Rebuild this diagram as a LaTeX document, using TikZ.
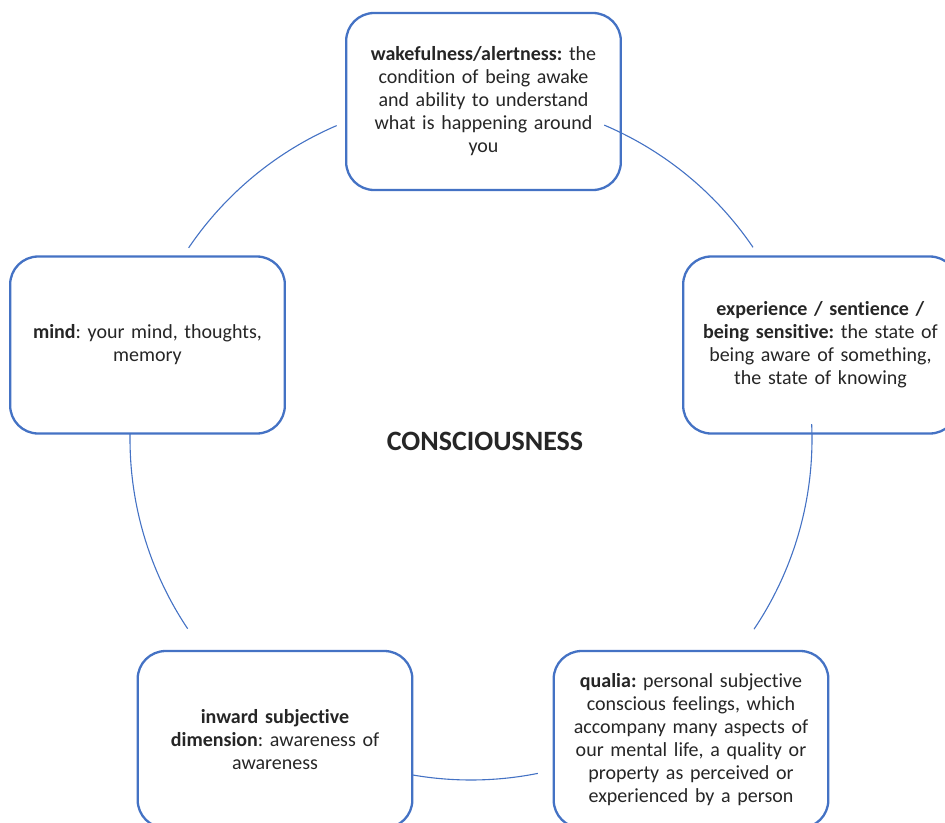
\documentclass[tikz,border=0pt]{standalone}
\usepackage{fontspec}
\setmainfont[Ligatures=NoCommon]{Carlito}
\usepackage{xcolor}
\definecolor{officeblue}{HTML}{4472C4}
\definecolor{textgrey}{HTML}{262626}
\usetikzlibrary{positioning}
\frenchspacing

\begin{document}
\begin{tikzpicture}[
  x=1pt, y=-1pt,
  topic/.style={draw=officeblue, line width=2.3pt, fill=white,
    rounded corners=28pt, minimum width=273pt, minimum height=177pt,
    text width=268pt, align=center, text=textgrey,
    font=\fontsize{20}{23}\selectfont},
  ring/.style={draw=officeblue, line width=1.1pt},
]
  \useasboundingbox (0,0) rectangle (945,822);

  % Centre of the cycle
  \coordinate (hub) at (471,439);
  \node[font=\bfseries\fontsize{28}{31}\selectfont, text=textgrey] (title)
    at (485,441) {CONSCIOUSNESS};

  % Topics round the cycle
  \node[topic] (wake) at (483.5,101.5)
    {\textbf{wakefulness/alertness:} the\\condition of being awake\\
     and ability to understand\\what is happening around\\you};
  \node[topic] (exper) at (820.5,345)
    {\textbf{experience / sentience /}\\\textbf{being sensitive:} the state of\\
     being aware of something,\\the state of knowing};
  \node[topic] (qualia) at (691,739.5)
    {\textbf{qualia:} personal subjective\\conscious feelings, which\\
     accompany many aspects of\\our mental life, a quality or\\
     property as perceived or\\experienced by a person};
  \node[topic] (inward) at (275,739.5)
    {\textbf{inward subjective}\\\textbf{dimension}: awareness of\\awareness};
  \node[topic] (mind) at (147.5,345)
    {\textbf{mind}: your mind, thoughts,\\memory};

  % Arcs of the cycle (angles negated, y runs down)
  \draw[ring] (hub) ++(-113.2:341) arc[start angle=-113.2, end angle=-145.9, radius=341];
  \draw[ring] (hub) ++(-67:341) arc[start angle=-67, end angle=-34.2, radius=341];
  \draw[ring] (hub) ++(-2.5:341) arc[start angle=-2.5, end angle=33.9, radius=341];
  \draw[ring] (hub) ++(78.7:341) arc[start angle=78.7, end angle=99.9, radius=341];
  \draw[ring] (hub) ++(-179.2:341) arc[start angle=-179.2, end angle=-213.8, radius=341];
\end{tikzpicture}
\end{document}
